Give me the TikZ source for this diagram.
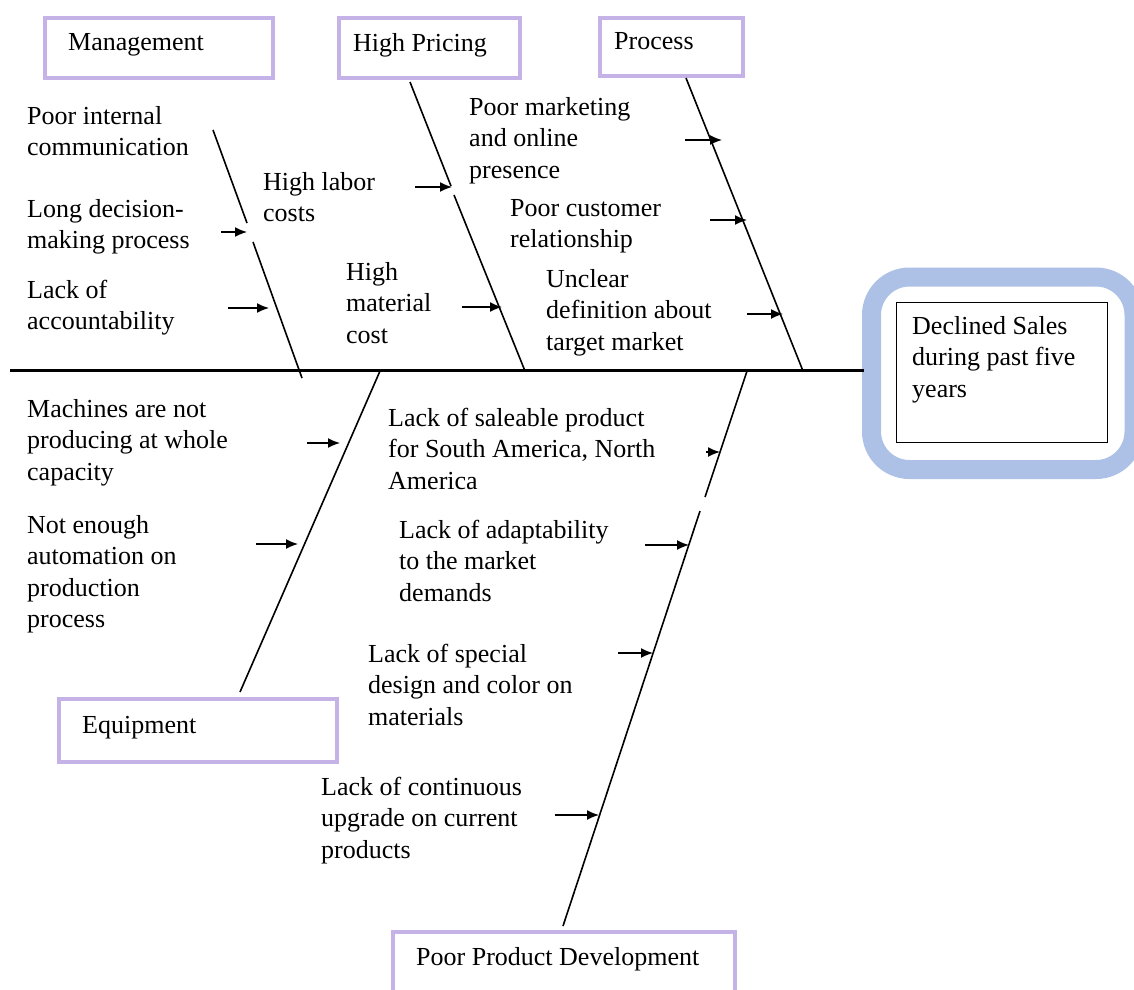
\documentclass[tikz,border=0pt]{standalone}
\usepackage{fontspec}
\setmainfont{Liberation Serif}
\usetikzlibrary{arrows.meta}
\definecolor{catpurple}{RGB}{197,178,230}
\definecolor{headblue}{RGB}{172,193,229}

\begin{document}
\begin{tikzpicture}[x=1pt,y=-1pt,
  catbox/.style={draw=catpurple, line width=4.5pt, anchor=north west, inner sep=0pt},
  % multi-line labels are placed by the baseline of their last line
  lbl/.style={anchor=base west, inner sep=0pt, align=left, font=\fontsize{26}{31.5}\selectfont},
  bone/.style={line width=1.6pt},
  cause/.style={line width=1.5pt, -{Latex[length=12pt,width=10pt]}},
]
\useasboundingbox (0,0) rectangle (1134,989);

% ---- effect (fish head) ----
\draw[headblue, line width=19pt, rounded corners=38pt] (871.5,277) rectangle (1134,469.5);
\node[draw, line width=1.3pt, minimum width=211pt, minimum height=140pt, anchor=north west, inner sep=0pt] (effect) at (896,302) {};
\node[lbl] (effect-t) at (912,397) {Declined Sales\\during past five\\years};

% ---- spine ----
\coordinate (tail) at (10,370);
\coordinate (head) at (864,370);
\draw[line width=3pt] (tail) -- (head);

% ---- category boxes ----
\node[catbox, minimum width=228pt, minimum height=60pt] (mgmt) at (42.5,15.5) {};
\node[lbl] (mgmt-t) at (68,50) {Management};
\node[catbox, minimum width=181pt, minimum height=60pt] (price) at (336.5,15.5) {};
\node[lbl] (price-t) at (353,51) {High Pricing};
\node[catbox, minimum width=143pt, minimum height=58pt] (proc) at (597.5,15.5) {};
\node[lbl] (proc-t) at (614,49) {Process};
\node[catbox, minimum width=278pt, minimum height=63pt] (equip) at (56.5,696.5) {};
\node[lbl] (equip-t) at (82,733) {Equipment};
\node[catbox, minimum width=342pt, minimum height=80pt] (ppd) at (390.5,929.5) {};
\node[lbl] (ppd-t) at (416,965) {Poor Product Development};

% ---- bones ----
\coordinate (m1) at (213,130);  \coordinate (m2) at (247,223);
\coordinate (m3) at (253,242);  \coordinate (m4) at (302,378);
\draw[bone] (m1) -- (m2);
\draw[bone] (m3) -- (m4);

\coordinate (p1) at (410,82);   \coordinate (p2) at (451,186);
\coordinate (p3) at (454,195);  \coordinate (p4) at (525,371);
\draw[bone] (p1) -- (p2);
\draw[bone] (p3) -- (p4);

\coordinate (r1) at (686,78);   \coordinate (r2) at (803,371);
\draw[bone] (r1) -- (r2);

\coordinate (e1) at (380,371);  \coordinate (e2) at (240,692);
\draw[bone] (e1) -- (e2);

\coordinate (d1) at (747,371);  \coordinate (d2) at (705,497);
\coordinate (d3) at (700,511);  \coordinate (d4) at (563,926);
\draw[bone] (d1) -- (d2);
\draw[bone] (d3) -- (d4);

% ---- management causes ----
\node[lbl] (c1) at (27,155.5) {Poor internal\\communication};
\node[lbl] (c2) at (27,248.5) {Long decision-\\making process};
\node[lbl] (c3) at (27,329.5) {Lack of\\accountability};
\coordinate (a2s) at (221,232); \coordinate (a2e) at (247,232);
\coordinate (a3s) at (228,308); \coordinate (a3e) at (269,308);
\draw[cause] (a2s) -- (a2e);
\draw[cause] (a3s) -- (a3e);

% ---- pricing causes ----
\node[lbl] (c4) at (263,221.5) {High labor\\costs};
\node[lbl] (c5) at (346,343) {High\\material\\cost};
\coordinate (a4s) at (415,187); \coordinate (a4e) at (452,187);
\coordinate (a5s) at (462,307); \coordinate (a5e) at (502,307);
\draw[cause] (a4s) -- (a4e);
\draw[cause] (a5s) -- (a5e);

% ---- process causes ----
\node[lbl] (c6) at (469,178) {Poor marketing\\and online\\presence};
\node[lbl] (c7) at (510,247.5) {Poor customer\\relationship};
\node[lbl] (c8) at (546,350) {Unclear\\definition about\\target market};
\coordinate (a6s) at (685,140); \coordinate (a6e) at (722,140);
\coordinate (a7s) at (710,220); \coordinate (a7e) at (747,220);
\coordinate (a8s) at (747,314); \coordinate (a8e) at (783,314);
\draw[cause] (a6s) -- (a6e);
\draw[cause] (a7s) -- (a7e);
\draw[cause] (a8s) -- (a8e);

% ---- equipment causes ----
\node[lbl] (c9) at (27,480) {Machines are not\\producing at whole\\capacity};
\node[lbl] (c10) at (27,627.5) {Not enough\\automation on\\production\\process};
\coordinate (a9s) at (307,443);  \coordinate (a9e) at (340,443);
\coordinate (a10s) at (256,544); \coordinate (a10e) at (298,544);
\draw[cause] (a9s) -- (a9e);
\draw[cause] (a10s) -- (a10e);

% ---- product development causes ----
\node[lbl] (c11) at (388,489) {Lack of saleable product\\for South America, North\\America};
\node[lbl] (c12) at (399,601) {Lack of adaptability\\to the market\\demands};
\node[lbl] (c13) at (368,725) {Lack of special\\design and color on\\materials};
\node[lbl] (c14) at (321,858) {Lack of continuous\\upgrade on current\\products};
\coordinate (a11s) at (706,452); \coordinate (a11e) at (720,452);
\coordinate (a12s) at (645,545); \coordinate (a12e) at (689,545);
\coordinate (a13s) at (618,653); \coordinate (a13e) at (653,653);
\coordinate (a14s) at (555,815); \coordinate (a14e) at (599,815);
\draw[cause] (a11s) -- (a11e);
\draw[cause] (a12s) -- (a12e);
\draw[cause] (a13s) -- (a13e);
\draw[cause] (a14s) -- (a14e);
\end{tikzpicture}
\end{document}
